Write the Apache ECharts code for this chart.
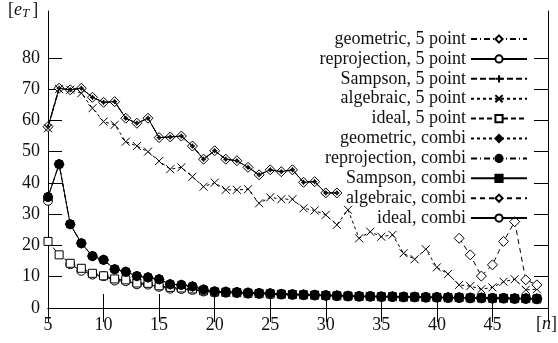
<!DOCTYPE html>
<html>
<head>
<meta charset="utf-8">
<script src="https://cdn.jsdelivr.net/npm/echarts@6/dist/echarts.min.js"></script>
<style>
  html, body { margin: 0; padding: 0; background: #fff; }
  #myChart { width: 558px; height: 343px; }
</style>
</head>
<body>
<div id="myChart"></div>
<script>
// x values: number of points n
const nValues = [5, 6, 7, 8, 9, 10, 11, 12, 13, 14, 15, 16, 17, 18, 19, 20, 21, 22, 23, 24, 25, 26, 27,
  28, 29, 30, 31, 32, 33, 34, 35, 36, 37, 38, 39, 40, 41, 42, 43, 44, 45, 46, 47, 48, 49];

// 5 point methods (geometric / reprojection / Sampson lie on top of each other)
const geometric5 = [58, 70.3, 69.8, 70.3, 67.4, 65.8, 66, 60.7, 59.1, 60.7, 54.5, 54.7, 55, 51.8, 47.6, 50.3,
  47.6, 47.1, 45, 42.6, 44.2, 43.6, 44.2, 40.2, 40.4, 36.8, 36.8,
  null, null, null, null, null, null, null, null, null, null, null, null, null, null, null, null, null, null];
const reprojection5 = geometric5.slice();
const sampson5 = geometric5.slice();
const algebraic5 = [57.5, 70, 69.8, 68.7, 63.9, 59.6, 58.6, 53.2, 51.8, 50, 47, 44.4, 45, 42, 38.8, 40.1,
  37.8, 37.8, 38, 33.5, 35.4, 34.8, 34.8, 31.9, 31.2, 29.8, 26.6, 31.4, 22.3, 24.4, 22.8, 23.4, 17.5, 15.6,
  18.8, 13, 10.9, 7.4, 7, 6, 6.6, 8.4, 9.2, 5.8, 6];
const ideal5 = [21.3, 17, 14.3, 12.7, 11.1, 10.3, 9.3, 9.0, 8.0, 7.9, 7.1, 6.6, 6.4, 6.1, 5.5, 5.1, 5.0, 4.9,
  4.7, 4.6, 4.5, 4.4, 4.3, 4.2, 4.1, 4.0, 3.9, 3.8, 3.7, 3.7, 3.6, 3.6, 3.5, 3.5, 3.4, 3.4, 3.3, 3.3, 3.2,
  3.2, 3.1, 3.1, 3.0, 3.0, 2.9];

// combi methods
const geometricCombi = [35.5, 46, 26.8, 20.7, 16.6, 15.4, 12.4, 11.6, 10.2, 9.8, 9.2, 7.6, 7.4, 6.9, 5.9, 5.3,
  5.2, 5.1, 4.9, 4.8, 4.7, 4.5, 4.4, 4.3, 4.2, 4.1, 4.0, 3.9, 3.8, 3.8, 3.7, 3.7, 3.6, 3.6, 3.5, 3.5, 3.4,
  3.4, 3.3, 3.3, 3.2, 3.2, 3.1, 3.1, 3.0];
const reprojectionCombi = geometricCombi.slice();
const sampsonCombi = geometricCombi.slice();
const algebraicCombi = [null, null, null, null, null, null, null, null, null, null, null, null, null, null,
  null, null, null, null, null, null, null, null, null, null, null, null, null, null, null, null, null, null,
  null, null, null, null, null, 22.3, 17, 10.2, 13.8, 21.3, 27.6, 9, 7.4];
const idealCombi = [34.3, null, 14.0, 11.9, 10.7, 10.2, 8.8, 8.6, 7.6, 7.5, 6.8, 6.2, 6.1, 5.8, 5.3, 5.0, 4.9,
  4.8, 4.6, 4.5, 4.4, 4.3, 4.2, 4.1, 4.0, 3.9, 3.8, 3.7, 3.6, 3.6, 3.5, 3.5, 3.4, 3.4, 3.3, 3.3, 3.2, 3.2,
  3.1, 3.1, 3.0, 3.0, 2.9, 2.9, 2.8];

// tick labels
const xTicks = [5, 10, 15, 20, 25, 30, 35, 40, 45];
const yTicks = [0, 10, 20, 30, 40, 50, 60, 70, 80];

const FONT = "Liberation Serif";
const FS = 18;
const PLUS = "path://M0,5L10,5M5,0L5,10";
const CROSS = "path://M0,0L10,10M10,0L0,10";

function pairs(vals) {
  return nValues.map((n, i) => [n, vals[i]]);
}

function mk(name, vals, symbol, size, dash, filled, z) {
  return {
    name: name,
    type: "line",
    data: pairs(vals),
    symbol: symbol,
    symbolSize: size,
    showSymbol: true,
    showAllSymbol: true,
    connectNulls: false,
    z: z,
    animation: false,
    lineStyle: { color: "#000", width: 1, type: dash },
    itemStyle: {
      color: filled ? "#000" : "#fff",
      borderColor: "#000",
      borderWidth: 1
    }
  };
}

const series = [
  mk("geometric, 5 point", geometric5, "diamond", 10, [6, 3, 1, 3], false, 3),
  mk("reprojection, 5 point", reprojection5, "circle", 3, "solid", false, 4),
  mk("Sampson, 5 point", sampson5, PLUS, 5, [6, 3], false, 5),
  mk("algebraic, 5 point", algebraic5, CROSS, 8, [3, 3], false, 3),
  mk("ideal, 5 point", ideal5, "rect", 8, [5, 3], false, 3),
  mk("geometric, combi", geometricCombi, "diamond", 10, [3, 3], true, 6),
  mk("reprojection, combi", reprojectionCombi, "circle", 9, [6, 3, 1, 3], true, 6),
  mk("Sampson, combi", sampsonCombi, "rect", 7, "solid", true, 6),
  mk("algebraic, combi", algebraicCombi, "diamond", 10, [5, 4], false, 3),
  mk("ideal, combi", idealCombi, "circle", 9, "solid", false, 2)
];

const chart = echarts.init(document.getElementById("myChart"));
chart.setOption({
  animation: false,
  grid: { left: 48, right: 10, top: 11, bottom: 35 },
  legend: {
    orient: "vertical",
    align: "right",
    right: 25,
    top: 25,
    itemWidth: 56,
    itemHeight: 9,
    itemGap: 1.9,
    textStyle: { fontFamily: FONT, fontSize: FS, color: "#111" },
    data: series.map(s => s.name)
  },
  xAxis: [
    {
      type: "value", min: 5, max: 50, interval: 5, position: "bottom",
      axisLine: { show: true, lineStyle: { color: "#000", width: 1 } },
      axisTick: { show: true, inside: true, length: 14, lineStyle: { color: "#000" } },
      axisLabel: { customValues: xTicks, fontFamily: FONT, fontSize: FS, color: "#111", margin: 8 },
      splitLine: { show: false }
    },
    {
      type: "value", min: 5, max: 50, interval: 5, position: "top",
      axisLine: { show: true, lineStyle: { color: "#000", width: 1 } },
      axisTick: { show: true, inside: true, length: 14, lineStyle: { color: "#000" } },
      axisLabel: { show: false },
      splitLine: { show: false }
    }
  ],
  yAxis: [
    {
      type: "value", min: 0, max: 95, interval: 10, position: "left",
      axisLine: { show: true, lineStyle: { color: "#000", width: 1 } },
      axisTick: { show: true, inside: true, length: 14, customValues: yTicks, lineStyle: { color: "#000" } },
      axisLabel: { customValues: yTicks, fontFamily: FONT, fontSize: FS, color: "#111", margin: 8 },
      splitLine: { show: false }
    },
    {
      type: "value", min: 0, max: 95, interval: 10, position: "right",
      axisLine: { show: true, lineStyle: { color: "#000", width: 1 } },
      axisTick: { show: true, inside: true, length: 14, customValues: yTicks, lineStyle: { color: "#000" } },
      axisLabel: { show: false },
      splitLine: { show: false }
    }
  ],
  graphic: [
    {
      type: "text", left: 8, top: 1,
      style: {
        text: "{a|[}{i|e}{s|T}{a|]}",
        rich: {
          a: { fontFamily: FONT, fontSize: FS, fill: "#111" },
          i: { fontFamily: FONT, fontSize: FS, fontStyle: "italic", fill: "#111" },
          s: { fontFamily: FONT, fontSize: 13, fontStyle: "italic", fill: "#111", verticalAlign: "bottom", padding: [8, 3, 0, 0] }
        }
      }
    },
    {
      type: "text", left: 536, top: 315,
      style: {
        text: "{a|[}{i|n}{a|]}",
        rich: {
          a: { fontFamily: FONT, fontSize: FS, fill: "#111" },
          i: { fontFamily: FONT, fontSize: FS, fontStyle: "italic", fill: "#111" }
        }
      }
    }
  ],
  series: series
});
</script>
</body>
</html>
